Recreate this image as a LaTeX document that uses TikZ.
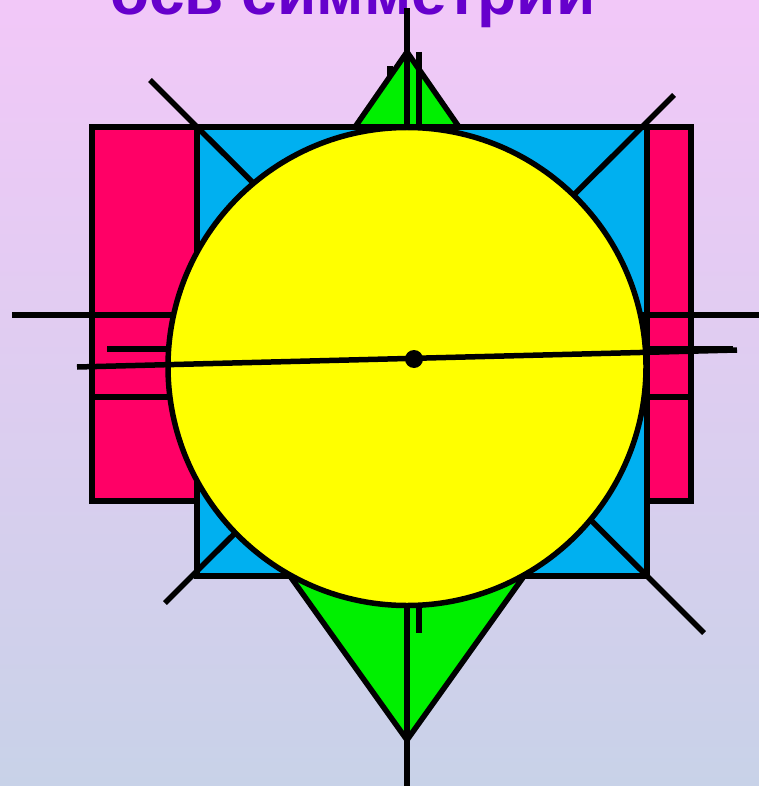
\documentclass[tikz,border=0pt]{standalone}
\usepackage{fontspec}
\setmainfont{Liberation Sans}
\definecolor{bgtop}{RGB}{242,200,248}
\definecolor{bgbot}{RGB}{200,210,232}
\definecolor{titlecol}{RGB}{102,0,204}
\definecolor{pinkc}{RGB}{255,0,102}
\definecolor{bluec}{RGB}{0,176,240}
\definecolor{greenc}{RGB}{0,240,0}
\definecolor{yellowc}{RGB}{255,255,0}
\tikzset{
  shapeline/.style={draw=black,line width=5.5pt,line join=miter},
  axisline/.style={draw=black,line width=5.5pt},
}
\begin{document}
\begin{tikzpicture}[x=1pt,y=-1pt]
\useasboundingbox (0,0) rectangle (759,786);
\clip (0,0) rectangle (759,786);
\shade[top color=bgtop,bottom color=bgbot] (0,0) rectangle (759,786);
% title (cut off at the top, as in the reference)
\node[anchor=base,text=titlecol,font=\fontsize{64}{70}\selectfont\bfseries,inner sep=0pt] (title) at (353,15) {ось симметрии};
% coordinates
\coordinate (stubA) at (390,66);
\coordinate (stubB) at (390,95);
\coordinate (kT) at (407,52);
\coordinate (kL) at (165,401);
\coordinate (kB) at (407,740);
\coordinate (kR) at (649,401);
\coordinate (vA) at (407,8);
\coordinate (vB) at (407,790);
\coordinate (wA) at (419,52);
\coordinate (wB) at (419,633);
\coordinate (h1A) at (12,315);
\coordinate (h1B) at (762,315);
\coordinate (h2A) at (107,349);
\coordinate (h2B) at (733,349);
\coordinate (h3A) at (92,397);
\coordinate (h3B) at (691,397);
\coordinate (d1A) at (150,80);
\coordinate (d1B) at (704,633);
\coordinate (d2A) at (674,95);
\coordinate (d2B) at (165,603);
\coordinate (tA) at (77,367);
\coordinate (tB) at (737,350);
% stub hidden by green
\draw[axisline] (stubA) -- (stubB);
% green kite
\filldraw[shapeline,fill=greenc] (kT) -- (kL) -- (kB) -- (kR) -- cycle;
% pink rectangle
\filldraw[shapeline,fill=pinkc] (92,127) rectangle (691,501);
% blue square
\filldraw[shapeline,fill=bluec] (197,127) rectangle (647,576);
% axes behind circle
\draw[axisline] (vA) -- (vB);
\draw[axisline] (wA) -- (wB);
\draw[axisline] (h1A) -- (h1B);
\draw[axisline] (h2A) -- (h2B);
\draw[axisline] (h3A) -- (h3B);
\draw[axisline] (d1A) -- (d1B);
\draw[axisline] (d2A) -- (d2B);
% circle
\node[circle,draw=black,line width=5.5pt,fill=yellowc,minimum size=478pt,inner sep=0pt] (circ) at (407,366.5) {};
% tilted line and dot
\draw[axisline] (tA) -- (tB);
\node[circle,fill=black,minimum size=18pt,inner sep=0pt] (dot) at (414,359) {};
\end{tikzpicture}
\end{document}
